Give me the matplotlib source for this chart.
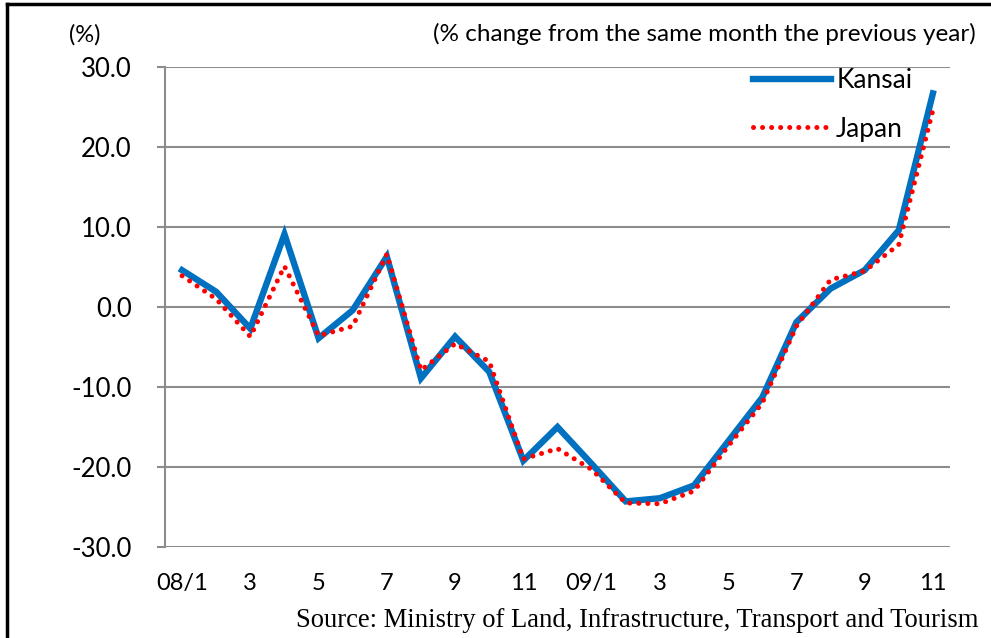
import matplotlib
matplotlib.use('Agg')
import matplotlib.pyplot as plt
from matplotlib.lines import Line2D

# month labels (every other month shown)
months = ['08/1', '2', '3', '4', '5', '6', '7', '8', '9', '10', '11', '12',
          '09/1', '2', '3', '4', '5', '6', '7', '8', '9', '10', '11']
tick_labels = ['08/1', '3', '5', '7', '9', '11', '09/1', '3', '5', '7', '9', '11']

kansai = [4.6, 1.9, -2.7, 9.1, -3.9, -0.4, 6.3, -8.9, -3.7, -8.1, -19.2, -15.0,
          -19.6, -24.3, -23.9, -22.3, -16.8, -11.3, -1.9, 2.3, 4.6, 9.6, 26.7]
japan = [3.9, 1.0, -3.7, 5.1, -3.6, -2.4, 6.6, -7.9, -4.6, -6.8, -19.0, -17.7,
         -20.3, -24.5, -24.6, -23.0, -17.4, -12.0, -2.4, 3.4, 4.5, 7.8, 24.6]

yticks = [30, 20, 10, 0, -10, -20, -30]

plt.rcParams['font.family'] = ['Lato', 'DejaVu Sans']

fig = plt.figure(figsize=(9.91, 6.38), dpi=100)
ax = fig.add_axes([0.1665, 0.1426, 0.7921, 0.7524])

x = list(range(len(months)))
ax.plot(x, kansai, color='#0070C0', lw=4.6, solid_joinstyle='miter', label='Kansai', zorder=3)
ax.plot(x, japan, color='#FF0000', lw=3.6, linestyle=(0, (0.01, 1.8)),
        dash_capstyle='round', label='Japan', zorder=4)

ax.set_xlim(-0.5, len(months) - 0.5)
ax.set_ylim(-30, 30)
ax.set_yticks(yticks)
ax.set_yticklabels(['%.1f' % v for v in yticks], fontsize=18.5)
ax.set_xticks(x[::2])
ax.set_xticklabels(tick_labels, fontsize=17)
ax.tick_params(axis='x', length=0, pad=19)
ax.tick_params(axis='y', length=6, width=1.5, color='#8c8c8c', pad=18)

ax.grid(axis='y', color='#8c8c8c', lw=1.5)
ax.set_axisbelow(True)
for s in ['top', 'right', 'bottom']:
    ax.spines[s].set_visible(False)
ax.spines['left'].set_color('#8c8c8c')
ax.spines['left'].set_linewidth(1.5)

ax.legend(loc='upper right', bbox_to_anchor=(0.952, 0.997), frameon=False,
          fontsize=19, handlelength=2.95, handletextpad=0.2, labelspacing=0.88,
          borderpad=0, borderaxespad=0)

fig.text(0.086, 0.946, '(%)', fontsize=17, ha='center', va='center')
fig.text(0.985, 0.946, '(% change from the same month the previous year)',
         fontsize=17.5, ha='right', va='center')
fig.text(0.987, 0.028, 'Source: Ministry of Land, Infrastructure, Transport and Tourism',
         fontsize=19.2, ha='right', va='center', family='Liberation Serif')

# outer frame (top and left edges visible)
fig.add_artist(Line2D([0.0075, 1.0], [0.993, 0.993], color='black', lw=2.5,
                      transform=fig.transFigure))
fig.add_artist(Line2D([0.0075, 0.0075], [0.0, 0.993], color='black', lw=2.5,
                      transform=fig.transFigure))

fig.savefig('out.png', dpi=100)
